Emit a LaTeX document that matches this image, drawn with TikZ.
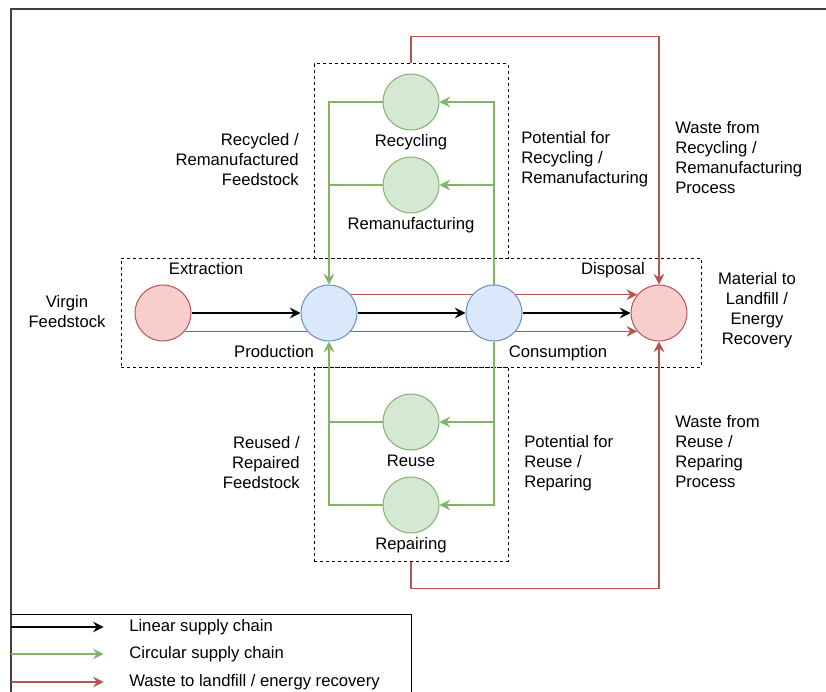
\documentclass[tikz,border=0pt]{standalone}
\usepackage{fontspec}
\setmainfont{Liberation Sans}
\usetikzlibrary{arrows.meta,positioning,backgrounds}

\definecolor{redfill}{HTML}{F8CECC}
\definecolor{redline}{HTML}{B85450}
\definecolor{bluefill}{HTML}{DAE8FC}
\definecolor{blueline}{HTML}{6C8EBF}
\definecolor{greenfill}{HTML}{D5E8D4}
\definecolor{greenline}{HTML}{82B366}

\tikzset{
  stage/.style={circle, draw=#1line, fill=#1fill, line width=.75pt, minimum size=42pt, inner sep=0pt},
  zone/.style={draw, dash pattern=on 2.25pt off 2.25pt, line width=.75pt, inner sep=0pt},
  lbl/.style={inner sep=0pt, font=\fontsize{12.5}{15}\selectfont},
  tag/.style={lbl, text height=9pt, text depth=2.6pt},
  linear/.style={black, line width=1pt, ->},
  circline/.style={greenline, line width=.85pt},
  circular/.style={circline, ->},
  waste/.style={redline, line width=.8pt, ->},
}

\begin{document}
\begin{tikzpicture}[x=.75pt, y=-.75pt, >={Stealth[length=8pt, width=8pt, inset=2.8pt]}]
\useasboundingbox (0,0) rectangle (826,692);
\draw[black!75, line width=1.3pt] (11,692) -- (11,9) -- (826,9);

% stages of the chain
\node[stage=red]  (ext)  at (163,313) {};
\node[stage=blue] (prod) at (329,313) {};
\node[stage=blue] (cons) at (494,313) {};
\node[stage=red]  (disp) at (659,313) {};
\node[stage=green] (recyc)  at (411,102) {};
\node[stage=green] (reman)  at (411,185) {};
\node[stage=green] (reuse)  at (411,422) {};
\node[stage=green] (repair) at (411,505) {};

\node[tag, below=3pt of recyc]  (recyclbl)  {Recycling};
\node[tag, below=3pt of reman]  (remanlbl)  {Remanufacturing};
\node[tag, below=3pt of reuse]  (reuselbl)  {Reuse};
\node[tag, below=3pt of repair] (repairlbl) {Repairing};
\node[tag] (extlbl)  at (206,270) {Extraction};
\node[tag] (prodlbl) at (274,353) {Production};
\node[tag] (conslbl) at (558,353) {Consumption};
\node[tag] (displbl) at (613,270) {Disposal};

\node[lbl, align=center] (virgin) at (67,312) {Virgin\\Feedstock};
\node[lbl, align=center] (landfill) at (757,310) {Material to\\Landfill /\\Energy\\Recovery};
\node[lbl, align=right, anchor=east] (recfeed) at (299,160) {Recycled /\\Remanufactured\\Feedstock};
\node[lbl, align=left, anchor=west] (recpot) at (521,159) {Potential for\\Recycling /\\Remanufacturing};
\node[lbl, align=left, anchor=west] (recwaste) at (675,158) {Waste from\\Recycling /\\Remanufacturing\\Process};
\node[lbl, align=right, anchor=east] (reufeed) at (300,463) {Reused /\\Repaired\\Feedstock};
\node[lbl, align=left, anchor=west] (reupot) at (524,463) {Potential for\\Reuse /\\Reparing};
\node[lbl, align=left, anchor=west] (reuwaste) at (675,452) {Waste from\\Reuse /\\Reparing\\Process};

\begin{scope}[on background layer]
\node[zone, minimum width=145.5pt, minimum height=145.5pt] (upbox) at (411,161) {};
\node[zone, minimum width=435pt, minimum height=81.75pt] (midbox) at (411,312.5) {};
\node[zone, minimum width=145.5pt, minimum height=145.5pt] (lowbox) at (411,464) {};

% linear flow
\draw[linear] (ext) -- (prod);
\draw[linear] (prod) -- (cons);
\draw[linear] (cons) -- (disp);
\draw[waste] (ext.-40) -- (disp.220);
\draw[waste] (prod.40) -- (disp.140);

% loops back to production
\draw[circular] (recyc.west) -| (prod.north);
\draw[circline] (reman.west) -- (reman.west -| prod.north);
\draw[circular] (cons.north) |- (recyc.east);
\draw[circular] (reman.east -| cons.north) -- (reman.east);
\draw[circular] (repair.west) -| (prod.south);
\draw[circline] (reuse.west) -- (reuse.west -| prod.south);
\draw[circular] (cons.south) |- (repair.east);
\draw[circular] (reuse.east -| cons.south) -- (reuse.east);

\draw[waste] (upbox.north) -- ++(0,-27) -| (disp.north);
\draw[waste] (lowbox.south) -- ++(0,27) -| (disp.south);
\end{scope}

% legend
\draw[line width=.75pt] (11,614) -- (411,614) -- (411,692);
\foreach \sty/\yy/\txt [count=\i] in {linear/627/Linear supply chain, circular/654/Circular supply chain, waste/682/{Waste to landfill / energy recovery}} {
  \node[lbl, anchor=west] (leg\i) at (129,\yy) {\txt};
  \draw[\sty] (11,\yy) -- ([xshift=-19pt]leg\i.west);
}
\end{tikzpicture}
\end{document}
